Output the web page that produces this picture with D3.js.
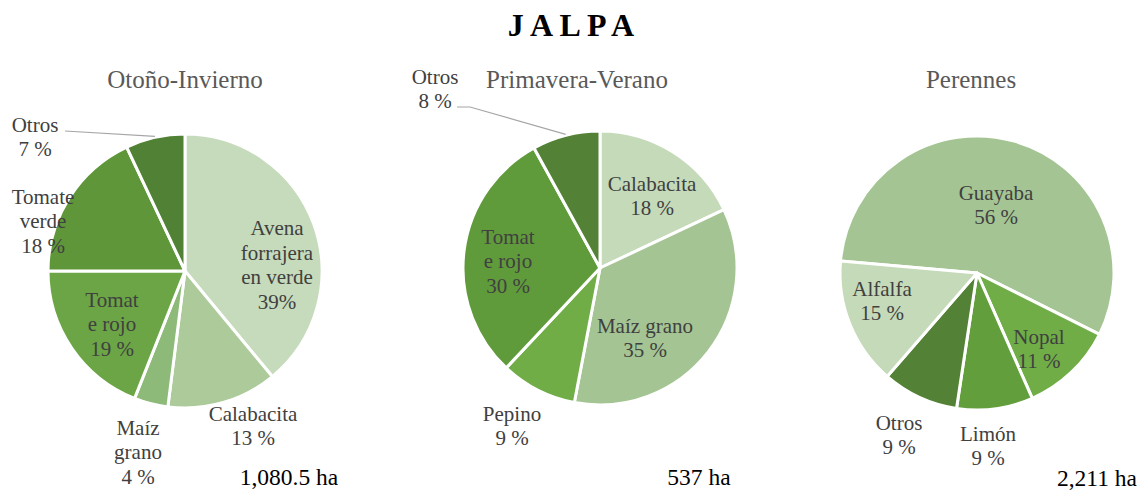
<!DOCTYPE html>
<html>
<head>
<meta charset="utf-8">
<style>
  body { margin: 0; background: #fff; }
  svg { display: block; }
</style>
<script src="https://cdn.jsdelivr.net/npm/d3@7"></script>
</head>
<body>
<svg width="1143" height="492"></svg>
<script>
// datos
const chartTitle = "J A L P A";
const pieTitles = ["Otoño-Invierno", "Primavera-Verano", "Perennes"];
const totals = ["1,080.5 ha", "537 ha", "2,211 ha"];

const oiCategories = ["Avena forrajera en verde", "Calabacita", "Maíz grano", "Tomate rojo", "Tomate verde", "Otros"];
const oiValues = [39, 13, 4, 19, 18, 7];

const pvCategories = ["Calabacita", "Maíz grano", "Pepino", "Tomate rojo", "Otros"];
const pvValues = [18, 35, 9, 30, 8];

const peCategories = ["Guayaba", "Nopal", "Limón", "Otros", "Alfalfa"];
const peValues = [56, 11, 9, 9, 15];

// cortes de linea de las etiquetas (como en el original)
const wrapped = {
  "Avena forrajera en verde": ["Avena", "forrajera", "en verde"],
  "Tomate rojo": ["Tomat", "e rojo"],
  "Tomate verde": ["Tomate", "verde"],
  "Maíz grano": ["Maíz", "grano"]
};

// layout
const W = 1143, H = 492, R = 137;
const pies = [
  { cats: oiCategories, vals: oiValues, cx: 185, cy: 271, rot: 0,
    colors: ["#c6dbbb", "#adca9b", "#8dba78", "#6ba545", "#5e9639", "#518134"],
    labelPos: [[92, -6], [68, 155], [-47, 181], [-73, 53], [-142, -50], [-150, -134]],
    wrapAll: ["Avena forrajera en verde", "Tomate rojo", "Tomate verde", "Maíz grano"],
    leader: { idx: 5, from: [[-120, -140]] },
    titleX: 185, totalX: 289, totalY: 485 },
  { cats: pvCategories, vals: pvValues, cx: 600, cy: 268, rot: 0,
    colors: ["#c5dab9", "#a4c593", "#70ad47", "#609b3b", "#538135"],
    labelPos: [[52, -72], [45, 70], [-88, 158], [-92, -7], [-165, -179]],
    wrapAll: ["Tomate rojo"],
    leader: { idx: 4, from: [[-143, -161], [-130, -161]] },
    titleX: 577, totalX: 699, totalY: 485 },
  { cats: peCategories, vals: peValues, cx: 977, cy: 273, rot: 275 * Math.PI / 180,
    colors: ["#a4c593", "#70ad47", "#629e3c", "#538135", "#c5dab9"],
    labelPos: [[19, -68], [62, 76], [11, 173], [-78, 162], [-95, 28]],
    wrapAll: [],
    leader: null,
    titleX: 971, totalX: 1097, totalY: 486 }
];

const svg = d3.select("svg");
const serif = "'Liberation Serif', 'Times New Roman', serif";

svg.append("text")
  .attr("x", 571).attr("y", 36)
  .attr("text-anchor", "middle")
  .style("font-family", serif).style("font-size", "32px").style("font-weight", "bold")
  .attr("fill", "#000")
  .text(chartTitle);

pies.forEach(function(p, k) {
  const g = svg.append("g").attr("transform", "translate(" + p.cx + "," + p.cy + ")");
  const pie = d3.pie().sort(null).value(d => d).startAngle(p.rot).endAngle(p.rot + 2 * Math.PI);
  const arcs = pie(p.vals);
  const arc = d3.arc().innerRadius(0).outerRadius(R);

  g.selectAll("path.slice")
    .data(arcs)
    .join("path")
    .attr("class", "slice")
    .attr("d", arc)
    .attr("fill", (d, i) => p.colors[i])
    .attr("stroke", "#fff")
    .attr("stroke-width", 3)
    .attr("stroke-linejoin", "round");

  // linea guia
  if (p.leader) {
    const a = arcs[p.leader.idx];
    const mid = (a.startAngle + a.endAngle) / 2;
    const end = [Math.sin(mid) * (R + 1), -Math.cos(mid) * (R + 1)];
    const pts = p.leader.from.concat([end]);
    g.append("path")
      .attr("d", d3.line()(pts))
      .attr("fill", "none")
      .attr("stroke", "#a6a6a6")
      .attr("stroke-width", 1.2);
  }

  // etiquetas
  arcs.forEach(function(a, i) {
    const cat = p.cats[i];
    let lines = (p.wrapAll.indexOf(cat) >= 0 && wrapped[cat]) ? wrapped[cat].slice() : [cat];
    const pct = cat === "Avena forrajera en verde" ? p.vals[i] + "%" : p.vals[i] + " %";
    lines.push(pct);
    const lh = 24.5;
    const pos = p.labelPos[i];
    const y0 = pos[1] - (lines.length - 1) * lh / 2 + 7;
    const t = g.append("text")
      .attr("text-anchor", "middle")
      .style("font-family", serif).style("font-size", "21px")
      .attr("fill", "#404040");
    lines.forEach(function(l, j) {
      t.append("tspan").attr("x", pos[0]).attr("y", y0 + j * lh).text(l);
    });
  });

  svg.append("text")
    .attr("x", p.titleX).attr("y", 88)
    .attr("text-anchor", "middle")
    .style("font-family", serif).style("font-size", "25px")
    .attr("fill", "#595959")
    .text(pieTitles[k]);

  svg.append("text")
    .attr("x", p.totalX).attr("y", p.totalY)
    .attr("text-anchor", "middle")
    .style("font-family", serif).style("font-size", "23.5px")
    .attr("fill", "#000")
    .text(totals[k]);
});
</script>
</body>
</html>
